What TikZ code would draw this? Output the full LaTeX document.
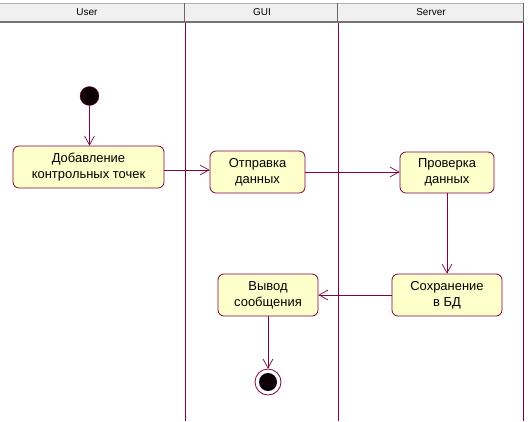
\documentclass[tikz,border=0pt]{standalone}
\usepackage{fontspec}
\setmainfont{Liberation Sans}
\usepackage{tikz}
\usetikzlibrary{arrows.meta}

\definecolor{linha}{RGB}{128,0,64}
\definecolor{caixa}{RGB}{255,255,204}
\definecolor{cabeca}{RGB}{240,240,240}

\begin{document}
\begin{tikzpicture}[x=1bp, y=-1bp, >={Straight Barb[length=9pt,width=10pt]},
    acao/.style={draw=linha, fill=caixa, rounded corners=6pt, line width=0.8pt,
        align=center, inner sep=0pt, font=\fontsize{13}{16}\selectfont},
    fluxo/.style={->, draw=linha, line width=0.7pt}]
    \useasboundingbox (0,0) rectangle (528,421);

    % cabeçalho das raias
    \fill[cabeca] (0,3) rectangle (524,21);
    \draw[gray!60, line width=0.6bp] (0,3) -- (524,3);
    \draw[gray!90!black, line width=1.6bp] (0,22) -- (524,22);
    \foreach \xsep in {184.5, 337.5, 523}
        \draw[gray!80!black, line width=1bp] (\xsep,3) -- (\xsep,21);
    \foreach \xlab/\rotulo in {87/User, 262/GUI, 431/Server}
        \node[font=\fontsize{10}{11}\selectfont] (h\rotulo) at (\xlab,12) {\rotulo};
    \foreach \xlane in {185.5, 338.5, 523.5}
        \draw[linha, line width=1bp] (\xlane,23) -- (\xlane,421);

    \node[circle, fill=black!90!linha, draw=linha, minimum size=19bp, inner sep=0pt] (ini) at (89.5,96) {};

    \node[acao, minimum width=151bp, minimum height=42bp] (b1) at (88.5,167) {Добавление\\контрольных точек};
    \node[acao, minimum width=95bp, minimum height=42bp] (b2) at (257.5,172) {Отправка\\данных};
    \node[acao, minimum width=94bp, minimum height=41bp] (b3) at (447,172.5) {Проверка\\данных};
    \node[acao, minimum width=110bp, minimum height=42bp] (b4) at (447,295) {Сохранение\\в БД};
    \node[acao, minimum width=100bp, minimum height=42bp] (b5) at (268,295) {Вывод\\сообщения};

    \node[circle, draw=linha, fill=white, line width=0.8pt, minimum size=26bp, inner sep=0pt] (fim) at (268,382) {};
    \fill[black!90!linha] (fim.center) circle (9bp);

    \draw[fluxo] (ini.south) -- (ini.south |- b1.north);
    \draw[fluxo] ([yshift=-3bp]b1.east) -- ([yshift=-3bp]b1.east -| b2.west);
    \draw[fluxo] (b2.east) -- (b2.east -| b3.west);
    \draw[fluxo] (b3.south) -- (b3.south |- b4.north);
    \draw[fluxo] (b4.west) -- (b5.east);
    \draw[fluxo] (b5.south) -- (fim.north);
\end{tikzpicture}
\end{document}
